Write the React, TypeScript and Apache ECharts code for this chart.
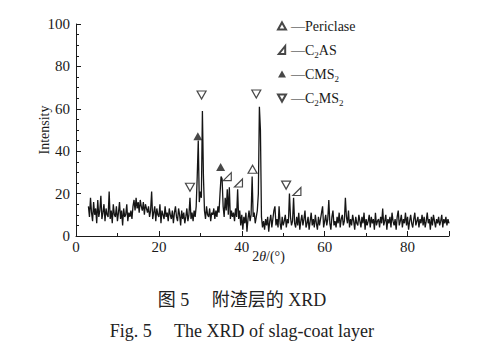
import React, { useEffect, useRef } from "react";
import * as echarts from "echarts";

// 2θ scan: first angle and step (degrees)
const SCAN_START = 3;
const SCAN_STEP = 0.25;

// Intensity, 0.25° apart
const scan3to28 = [
  14, 9, 18, 11, 7, 16, 10, 13, 6, 17, 9, 12, 19, 8, 11, 15, 7, 13, 10, 9,
  21, 8, 12, 6, 15, 10, 9, 14, 7, 11, 16, 8, 12, 5, 13, 9, 10, 15, 7, 11,
  9, 12, 8, 14, 17, 12, 18, 13, 16, 11, 17, 14, 12, 16, 10, 15, 13, 11, 14, 9,
  12, 21, 8, 11, 14, 7, 13, 10, 9, 15, 6, 12, 10, 8, 14, 9, 11, 7, 13, 10,
  8, 12, 6, 11, 14, 9, 7, 13, 10, 5, 12, 8, 11, 6, 9, 13, 7, 10, 18, 8,
];
const scan28to48 = [
  11, 7, 12, 9, 14, 28, 45, 16, 21, 18, 59, 28, 12, 8, 14, 10, 9, 13, 7, 11,
  10, 13, 8, 12, 9, 14, 11, 20, 28, 27, 14, 9, 18, 12, 22, 10, 23, 8, 12, 9,
  11, 7, 13, 9, 22, 8, 12, 5, 10, 3, 9, 6, 11, 2, 8, 12, 7, 10, 28, 9,
  11, 6, 9, 12, 20, 61, 50, 9, 4, 7, 3, 8, 5, 9, 2, 7, 10, 4, 8, 12,
];
const scan48to90 = [
  14, 5, 8, 4, 14, 6, 3, 9, 5, 7, 10, 4, 8, 6, 20, 9, 5, 7, 18, 6,
  4, 9, 5, 11, 3, 7, 10, 5, 8, 12, 4, 6, 9, 3, 7, 11, 5, 8, 4, 10,
  6, 3, 9, 5, 8, 11, 14, 4, 7, 10, 5, 8, 17, 6, 3, 9, 12, 5, 7, 4,
  9, 6, 11, 4, 8, 10, 5, 7, 18, 9, 6, 12, 4, 8, 5, 10, 7, 3, 9, 6,
  5, 10, 7, 4, 9, 6, 11, 3, 8, 5, 7, 10, 4, 9, 6, 8, 3, 11, 5, 7,
  8, 4, 9, 6, 13, 5, 7, 10, 3, 8, 6, 9, 4, 11, 7, 5, 8, 3, 9, 12,
  5, 7, 10, 4, 8, 6, 11, 5, 9, 3, 7, 10, 6, 4, 8, 11, 5, 7, 9, 4,
  8, 6, 10, 5, 9, 4, 7, 11, 6, 8, 3, 9, 5, 10, 7, 4, 8, 6, 9, 5,
  7, 10, 4, 8, 6, 9, 5, 8, 6,
];

// Phase markers [2θ, height]
const periclase = [[42.6, 31.5]];
const c2as = [[36.5, 28], [39.2, 25], [53.3, 21]];
const cms2 = [[29.4, 47], [34.9, 32.5]];
const c2ms2 = [[27.5, 23], [30.3, 66.5], [43.5, 67], [50.7, 24]];

const phaseNames = ["Periclase", "C2AS", "CMS2", "C2MS2"];
const phaseLabels: Record<string, string> = {
  Periclase: "—Periclase",
  C2AS: "—C{sub|2}AS",
  CMS2: "—CMS{sub|2}",
  C2MS2: "—C{sub|2}MS{sub|2}",
};

const xTicks = { min: 0, max: 90, interval: 20 };
const yTicks = { min: 0, max: 100, interval: 20 };

const SERIF = "Liberation Serif";
const CAPTION_FONT = "'Liberation Serif', 'Noto Sans CJK SC', serif";
const INK = "#1a1a1a";

const DOWN_TRI = "path://M0,0 L10,0 L5,9 Z";
const UP_TRI = "path://M5,0 L10,9 L0,9 Z";
const SLANT_TRI = "path://M2,10 L10,10 L10,0 Z";

export default function App() {
  const ref = useRef<HTMLDivElement>(null);
  useEffect(() => {
    if (!ref.current) return;
    const chart = echarts.init(ref.current, undefined, { renderer: "svg" });
    const intensity = [...scan3to28, ...scan28to48, ...scan48to90];
    const trace = intensity.map((v, i) => [SCAN_START + i * SCAN_STEP, v]);
    const open = { color: "#fff", borderColor: INK, borderWidth: 1.2 };
    chart.setOption({
      animation: false,
      backgroundColor: "#fff",
      grid: { left: 76, right: 35, top: 24, bottom: 124, containLabel: false },
      legend: {
        orient: "vertical",
        left: 272,
        top: 12,
        itemWidth: 8,
        itemHeight: 8,
        itemGap: 6,
        data: [
          { name: "Periclase", icon: UP_TRI },
          { name: "C2AS", icon: SLANT_TRI },
          { name: "CMS2", icon: UP_TRI },
          { name: "C2MS2", icon: DOWN_TRI },
        ],
        formatter: (n: string) => phaseLabels[n],
        textStyle: {
          fontFamily: SERIF,
          fontSize: 14,
          color: INK,
          lineHeight: 18,
          rich: {
            sub: { fontFamily: SERIF, fontSize: 9, lineHeight: 8, verticalAlign: "bottom", color: INK },
          },
        },
      },
      xAxis: {
        type: "value",
        ...xTicks,
        name: "2{i|θ}/(°)",
        nameLocation: "middle",
        nameGap: 13,
        nameMoveOverlap: false,
        nameTextStyle: {
          fontFamily: SERIF,
          fontSize: 14,
          color: INK,
          padding: [0, 0, 0, 12],
          rich: { i: { fontFamily: SERIF, fontSize: 14, fontStyle: "italic", color: INK } },
        },
        axisLine: { lineStyle: { color: INK, width: 1 } },
        axisTick: { inside: true, length: 5, lineStyle: { color: INK } },
        minorTick: { show: true, splitNumber: 2, length: 3, lineStyle: { color: INK } },
        splitLine: { show: false },
        axisLabel: { fontFamily: SERIF, fontSize: 15, color: INK, margin: 3, showMaxLabel: false },
      },
      yAxis: {
        type: "value",
        ...yTicks,
        name: "Intensity",
        nameLocation: "middle",
        nameGap: 25,
        nameMoveOverlap: false,
        nameTextStyle: { fontFamily: SERIF, fontSize: 14, color: INK },
        axisLine: { show: true, lineStyle: { color: INK, width: 1 } },
        axisTick: { show: true, inside: true, length: 5, lineStyle: { color: INK } },
        minorTick: { show: true, splitNumber: 4, length: 3, lineStyle: { color: INK } },
        splitLine: { show: false },
        axisLabel: { fontFamily: SERIF, fontSize: 15, color: INK, margin: 6 },
      },
      series: [
        {
          type: "line",
          data: trace,
          showSymbol: false,
          lineStyle: { color: "#151515", width: 1.3 },
          z: 1,
        },
        { name: "Periclase", type: "scatter", data: periclase, symbol: UP_TRI, symbolSize: [9, 8], itemStyle: open, z: 3 },
        { name: "C2AS", type: "scatter", data: c2as, symbol: SLANT_TRI, symbolSize: 8, itemStyle: open, z: 3 },
        { name: "CMS2", type: "scatter", data: cms2, symbol: UP_TRI, symbolSize: [9, 8], itemStyle: { color: INK }, z: 3 },
        { name: "C2MS2", type: "scatter", data: c2ms2, symbol: DOWN_TRI, symbolSize: [9, 8], itemStyle: open, z: 3 },
      ],
      graphic: [
        {
          type: "text",
          left: "center",
          top: 291,
          style: { text: "图 5　 附渣层的 XRD", font: `18px ${CAPTION_FONT}`, fill: "#222" },
        },
        {
          type: "text",
          left: "center",
          top: 322,
          style: { text: "Fig. 5　 The XRD of slag-coat layer", font: `18px ${CAPTION_FONT}`, fill: "#222" },
        },
      ],
    });
    return () => chart.dispose();
  }, []);
  return (
    <div
      ref={ref}
      style={{ position: "fixed", left: 0, top: 0, width: 484, height: 360, background: "#fff" }}
    />
  );
}
